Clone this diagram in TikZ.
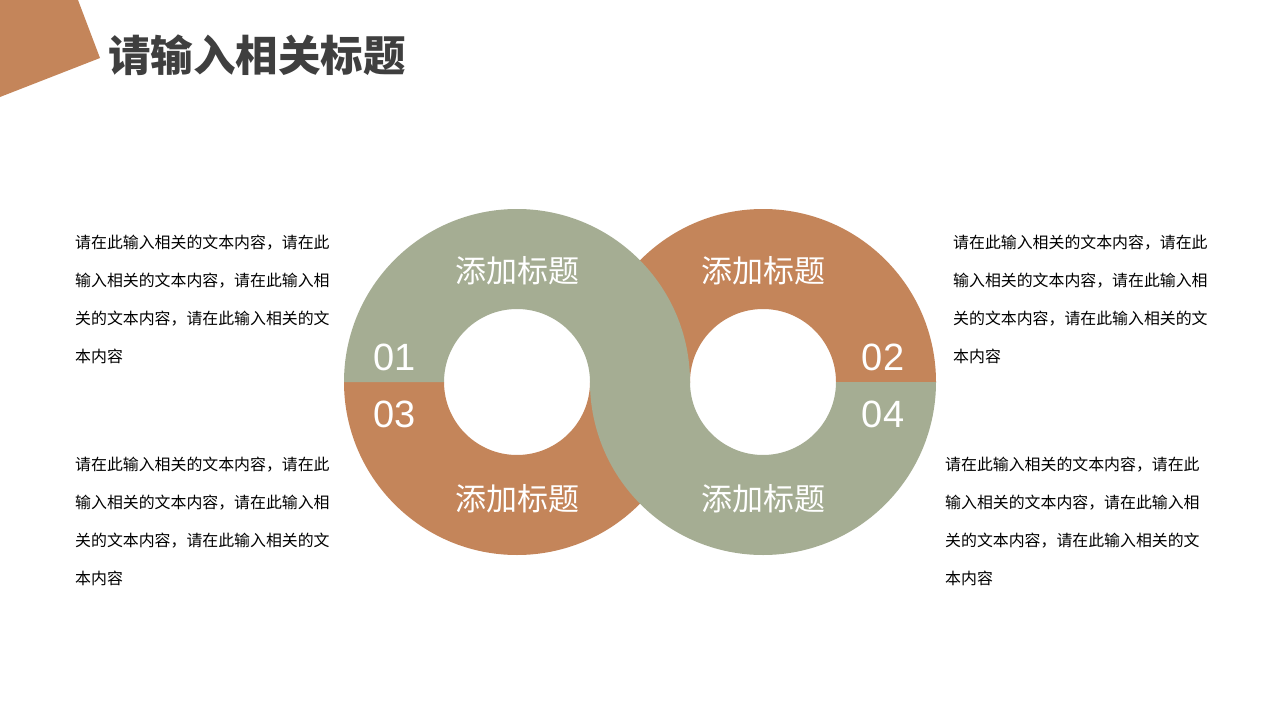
\documentclass[tikz,border=0pt]{standalone}
\usepackage{fontspec}
\setmainfont{Liberation Sans}
\newfontfamily\cjk{Noto Sans CJK SC}
\definecolor{sage}{HTML}{A5AD93}
\definecolor{clay}{HTML}{C4855A}
\definecolor{ink}{HTML}{3F3F3F}
\tikzset{
  ringlabel/.style={text=white, inner sep=0pt, font=\cjk\fontsize{31}{33}\selectfont},
  ringnum/.style={text=white, inner sep=0pt, font=\fontsize{38}{40}\selectfont},
  bodytext/.style={anchor=base west, align=left, inner sep=0pt, text=black,
    font=\cjk\fontsize{15.9}{38}\selectfont},
}
% upper and lower halves of a ring: centre x, centre y
\newcommand{\tophalf}[3]{\fill[#1] (#2-173,#3) arc[start angle=180, end angle=360, radius=173]
  -- (#2+73,#3) arc[start angle=360, end angle=180, radius=73] -- cycle;}
\newcommand{\bothalf}[3]{\fill[#1] (#2-173,#3) arc[start angle=180, end angle=0, radius=173]
  -- (#2+73,#3) arc[start angle=0, end angle=180, radius=73] -- cycle;}
\newcommand{\blurb}{请在此输入相关的文本内容，请在此\\输入相关的文本内容，请在此输入相\\关的文本内容，请在此输入相关的文\\本内容}
\begin{document}
\begin{tikzpicture}[x=1pt, y=-1pt]
	\useasboundingbox (0,0) rectangle (1280,720);
	\fill[white] (0,0) rectangle (1280,720);
	% corner mark and title
	\fill[clay] (0,0) -- (78,0) -- (100,58) -- (0,97) -- cycle;
	\node[anchor=base west, inner sep=0pt, text=ink, font=\cjk\bfseries\fontsize{42.5}{45}\selectfont] (title) at (108,71) {请输入相关标题};
	% rings
	\bothalf{clay}{517}{382}
	\tophalf{clay}{763}{382}
	\tophalf{sage}{517}{382}
	\bothalf{sage}{763}{382}
	\node[ringlabel] (lab1) at (517,271) {添加标题};
	\node[ringlabel] (lab2) at (763,271) {添加标题};
	\node[ringlabel] (lab3) at (517,499) {添加标题};
	\node[ringlabel] (lab4) at (763,499) {添加标题};
	\node[ringnum] (num1) at (395,357) {01};
	\node[ringnum] (num2) at (883,357) {02};
	\node[ringnum] (num3) at (395,414) {03};
	\node[ringnum] (num4) at (883,414) {04};
	% text blocks (anchored on the last line)
	\node[bodytext] (txt1) at (75,362) {\blurb};
	\node[bodytext] (txt2) at (953,362) {\blurb};
	\node[bodytext] (txt3) at (75,584) {\blurb};
	\node[bodytext] (txt4) at (945,584) {\blurb};
\end{tikzpicture}
\end{document}
